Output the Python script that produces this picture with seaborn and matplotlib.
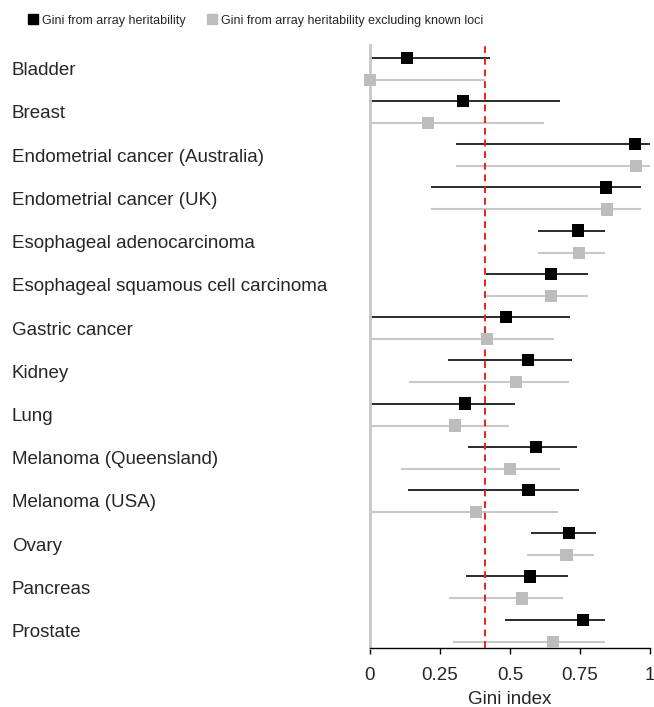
"""Forest plot of Gini index per cancer type, with and without known loci."""

import matplotlib.pyplot as plt
import pandas as pd
import seaborn as sns
from matplotlib.lines import Line2D

sns.set_theme(style="white")
plt.rcParams["font.family"] = ["Liberation Sans", "DejaVu Sans"]

CANCERS = [
    "Bladder",
    "Breast",
    "Endometrial cancer (Australia)",
    "Endometrial cancer (UK)",
    "Esophageal adenocarcinoma",
    "Esophageal squamous cell carcinoma",
    "Gastric cancer",
    "Kidney",
    "Lung",
    "Melanoma (Queensland)",
    "Melanoma (USA)",
    "Ovary",
    "Pancreas",
    "Prostate",
]

# Gini from array heritability
ALL_GINI = [0.132, 0.332, 0.946, 0.843, 0.743, 0.646, 0.486, 0.564, 0.339, 0.592, 0.566, 0.712, 0.571, 0.762]
ALL_LO = [0.0, 0.0, 0.307, 0.218, 0.600, 0.414, 0.0, 0.279, 0.0, 0.349, 0.135, 0.575, 0.342, 0.483]
ALL_HI = [0.430, 0.680, 1.0, 0.968, 0.840, 0.780, 0.714, 0.720, 0.518, 0.738, 0.746, 0.807, 0.708, 0.840]

# Gini from array heritability excluding known loci
EXCL_GINI = [0.0, 0.207, 0.950, 0.846, 0.746, 0.646, 0.418, 0.521, 0.304, 0.500, 0.379, 0.702, 0.542, 0.655]
EXCL_LO = [0.0, 0.0, 0.307, 0.218, 0.600, 0.414, 0.0, 0.140, 0.0, 0.111, 0.0, 0.561, 0.281, 0.295]
EXCL_HI = [0.410, 0.620, 1.0, 0.968, 0.840, 0.780, 0.657, 0.710, 0.496, 0.679, 0.670, 0.800, 0.689, 0.840]

SERIES = ["Gini from array heritability", "Gini from array heritability excluding known loci"]
THRESHOLD = 0.41

MARKER_COLORS = {SERIES[0]: "#000000", SERIES[1]: "#bdbdbd"}
LINE_COLORS = {SERIES[0]: "#1a1a1a", SERIES[1]: "#c8c8c8"}
OFFSETS = {SERIES[0]: -0.255, SERIES[1]: 0.255}

rows = []
for name, est, lo, hi in [(SERIES[0], ALL_GINI, ALL_LO, ALL_HI), (SERIES[1], EXCL_GINI, EXCL_LO, EXCL_HI)]:
    for i, cancer in enumerate(CANCERS):
        rows.append({"cancer": cancer, "series": name, "gini": est[i], "lo": lo[i], "hi": hi[i],
                     "y": i + OFFSETS[name]})
df = pd.DataFrame(rows)

fig = plt.figure(figsize=(6.54, 7.07), dpi=100)
ax = fig.add_axes([0.5657, 0.0835, 0.4281, 0.8529])

for name, sub in df.groupby("series"):
    ax.hlines(sub["y"], sub["lo"], sub["hi"], color=LINE_COLORS[name],
              linewidth=1.3 if name == SERIES[0] else 1.5, zorder=2)

ax.axvline(THRESHOLD, color="#e8201c", linestyle=(0, (3.5, 2.5)), linewidth=1.4, zorder=3)

sns.scatterplot(data=df, x="gini", y="y", hue="series", palette=MARKER_COLORS, marker="s",
                s=78, linewidth=0, legend=False, ax=ax, zorder=4, clip_on=False)

ax.set_xlim(0, 1)
ax.set_ylim(13.40, -0.55)
ax.set_xticks([0, 0.25, 0.5, 0.75, 1])
ax.set_xticklabels(["0", "0.25", "0.5", "0.75", "1"], fontsize=13.5)
ax.set_yticks(range(len(CANCERS)))
ax.set_yticklabels(CANCERS, ha="left", fontsize=13.5)
ax.tick_params(axis="y", length=0, pad=257.8)
ax.tick_params(axis="x", direction="out", length=4.5, width=1, color="black", bottom=True, pad=9)
ax.set_xlabel("Gini index", fontsize=13.5, labelpad=5)
ax.set_ylabel("")

for side in ["top", "right"]:
    ax.spines[side].set_visible(False)
ax.spines["left"].set_color("#c8c8c8")
ax.spines["left"].set_linewidth(2)
ax.spines["bottom"].set_color("black")
ax.spines["bottom"].set_linewidth(1)

handles = [Line2D([], [], marker="s", linestyle="", markersize=7.5, color=MARKER_COLORS[s]) for s in SERIES]
fig.legend(handles, SERIES, loc="upper left", bbox_to_anchor=(0.025, 0.995), ncol=2, frameon=False,
           fontsize=9, handletextpad=0.35, columnspacing=1.7, handlelength=0.8)

fig.savefig("out.png", dpi=100)
